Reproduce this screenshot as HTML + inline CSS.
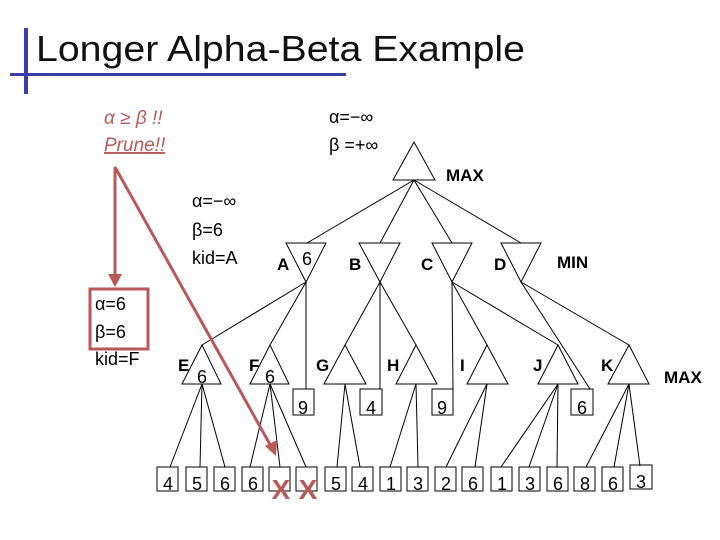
<!DOCTYPE html>
<html><head><meta charset="utf-8"><style>
body{margin:0;background:#fff;}
svg{display:block;font-family:"Liberation Sans",sans-serif;}
.b{font-weight:bold;font-size:17px;}
.t{font-size:18px;}
.l{font-size:18px;}
</style></head><body>
<svg width="720" height="540" viewBox="0 0 720 540">
<rect x="24" y="28" width="4" height="66" fill="#3a3aa8"/>
<rect x="10" y="73" width="336" height="3" fill="#3a3aa8"/>
<text x="36" y="61" font-size="36" fill="#111" textLength="489" lengthAdjust="spacingAndGlyphs">Longer Alpha-Beta Example</text>
<g fill="#b85858" font-style="italic" font-size="19">
<text x="104" y="124">α ≥ β !!</text>
<text x="104" y="151" text-decoration="underline">Prune!!</text>
</g>
<g class="t" fill="#000">
<text x="329" y="123">α=−∞</text>
<text x="329" y="151">β =+∞</text>
<text x="192" y="207">α=−∞</text>
<text x="192" y="236">β=6</text>
<text x="192" y="264">kid=A</text>
<text x="95" y="310">α=6</text>
<text x="95" y="338">β=6</text>
<text x="95" y="365">kid=F</text>
</g>
<g stroke="#000" stroke-width="1" fill="none">
<polygon points="414,142 393,180 435,180" fill="#fff"/>
<polygon points="286,243 326,243 306,282"/>
<polygon points="359,243 400,243 380,282"/>
<polygon points="432,243 472,243 452,282"/>
<polygon points="501,243 541,243 521,282"/>
<line x1="414" y1="180" x2="307" y2="243"/>
<line x1="414" y1="180" x2="380" y2="243"/>
<line x1="414" y1="180" x2="452" y2="243"/>
<line x1="414" y1="180" x2="521" y2="243"/>
<polygon points="202,345 182,384 221,384"/>
<polygon points="270,345 250,384 289,384"/>
<polygon points="345,345 324,384 366,384"/>
<polygon points="416,345 396,384 437,384"/>
<polygon points="487,345 467,384 508,384"/>
<polygon points="558,345 538,384 578,384"/>
<polygon points="629,345 608,384 649,384"/>
<line x1="306" y1="282" x2="202" y2="345"/>
<line x1="306" y1="282" x2="270" y2="345"/>
<line x1="306" y1="282" x2="306" y2="389"/>
<line x1="380" y1="282" x2="345" y2="345"/>
<line x1="380" y1="282" x2="380" y2="389"/>
<line x1="380" y1="282" x2="416" y2="345"/>
<line x1="452" y1="282" x2="453" y2="389"/>
<line x1="452" y1="282" x2="487" y2="345"/>
<line x1="452" y1="282" x2="558" y2="345"/>
<line x1="521" y1="282" x2="590" y2="389"/>
<line x1="521" y1="282" x2="629" y2="345"/>
<rect x="293" y="389" width="21" height="26"/>
<rect x="360" y="389" width="22" height="26"/>
<rect x="432" y="389" width="21" height="26"/>
<rect x="571" y="389" width="22" height="26"/>
<line x1="202" y1="384" x2="170" y2="467"/><line x1="202" y1="384" x2="200" y2="467"/><line x1="202" y1="384" x2="225" y2="467"/>
<line x1="270" y1="384" x2="250" y2="467"/><line x1="270" y1="384" x2="280" y2="467"/><line x1="270" y1="384" x2="306" y2="467"/>
<line x1="345" y1="384" x2="337" y2="467"/><line x1="345" y1="384" x2="360" y2="467"/>
<line x1="416" y1="384" x2="390" y2="467"/><line x1="416" y1="384" x2="418" y2="467"/>
<line x1="487" y1="384" x2="446" y2="467"/><line x1="487" y1="384" x2="475" y2="467"/>
<line x1="558" y1="384" x2="501" y2="467"/><line x1="558" y1="384" x2="529" y2="467"/><line x1="558" y1="384" x2="557" y2="467"/>
<line x1="629" y1="384" x2="586" y2="467"/><line x1="629" y1="384" x2="614" y2="467"/><line x1="629" y1="384" x2="640" y2="466"/>
<rect x="157" y="467" width="21" height="24"/><rect x="186" y="467" width="21" height="24"/><rect x="214" y="467" width="21" height="24"/>
<rect x="242" y="467" width="21" height="24"/><rect x="269" y="467" width="21" height="24"/><rect x="296" y="467" width="21" height="24"/>
<rect x="325" y="467" width="21" height="24"/><rect x="352" y="467" width="21" height="24"/><rect x="380" y="467" width="21" height="24"/>
<rect x="407" y="467" width="21" height="24"/><rect x="435" y="467" width="21" height="24"/><rect x="462" y="467" width="21" height="24"/>
<rect x="491" y="467" width="21" height="24"/><rect x="519" y="467" width="21" height="24"/><rect x="547" y="467" width="21" height="24"/>
<rect x="574" y="467" width="21" height="24"/><rect x="602" y="467" width="21" height="24"/><rect x="630" y="465" width="22" height="24"/>
</g>
<g class="b" fill="#000">
<text x="446" y="181">MAX</text>
<text x="557" y="268">MIN</text>
<text x="664" y="383">MAX</text>
<text x="277" y="270">A</text>
<text x="349" y="270">B</text>
<text x="421" y="270">C</text>
<text x="494" y="270">D</text>
<text x="178" y="371">E</text>
<text x="249" y="371">F</text>
<text x="316" y="371">G</text>
<text x="387" y="371">H</text>
<text x="460" y="371">I</text>
<text x="533" y="371">J</text>
<text x="601" y="371">K</text>
</g>
<g class="l" fill="#000" text-anchor="middle">
<text x="307" y="265">6</text>
<text x="202" y="383">6</text>
<text x="270" y="383">6</text>
<text x="303" y="414">9</text>
<text x="371" y="414">4</text>
<text x="442" y="414">9</text>
<text x="582" y="414">6</text>
<text x="168" y="490">4</text><text x="197" y="490">5</text><text x="225" y="490">6</text>
<text x="253" y="490">6</text>
<text x="336" y="490">5</text><text x="363" y="490">4</text><text x="391" y="490">1</text>
<text x="418" y="490">3</text><text x="446" y="490">2</text><text x="473" y="490">6</text>
<text x="502" y="490">1</text><text x="530" y="490">3</text><text x="558" y="490">6</text>
<text x="585" y="490">8</text><text x="613" y="490">6</text><text x="641" y="488">3</text>
</g>
<g fill="#b85858" font-weight="bold" font-size="28" text-anchor="middle">
<text x="281" y="499">X</text>
<text x="308" y="499">X</text>
</g>
<g stroke="#b85858" stroke-width="3" fill="none">
<rect x="90" y="289" width="58" height="60"/>
<line x1="115" y1="167" x2="115" y2="276"/>
<line x1="115" y1="167" x2="272" y2="448"/>
</g>
<polygon points="108,274 122,274 115,287" fill="#b85858"/>
<polygon points="265,446 277,440 276,456" fill="#b85858"/>
</svg>
</body></html>
